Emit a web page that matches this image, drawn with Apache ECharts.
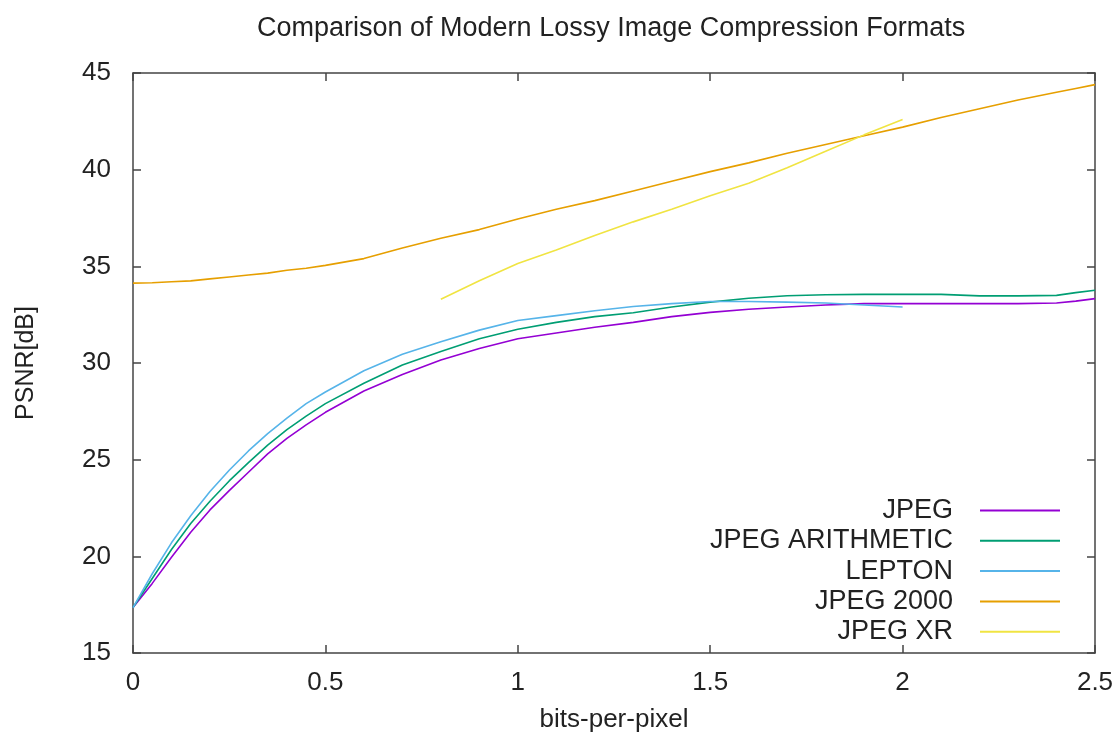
<!DOCTYPE html>
<html>
<head>
<meta charset="utf-8">
<script src="https://cdn.jsdelivr.net/npm/echarts@6/dist/echarts.min.js"></script>
<style>
  html, body { margin: 0; padding: 0; background: #fff; }
  #chart { width: 1118px; height: 740px; }
</style>
</head>
<body>
<div id="chart"></div>
<script>
// bits-per-pixel samples shared by all curves
var bpp = [0, 0.05, 0.1, 0.15, 0.2, 0.25, 0.3, 0.35, 0.4, 0.45, 0.5,
  0.6, 0.7, 0.8, 0.9, 1.0, 1.1, 1.2, 1.3, 1.4, 1.5, 1.6, 1.7, 1.8, 1.9, 2.0,
  2.1, 2.2, 2.3, 2.4, 2.45, 2.5];

var jpeg = [17.35, 18.6, 19.95, 21.25, 22.4, 23.4, 24.35, 25.3, 26.1, 26.8, 27.45,
  28.55, 29.4, 30.15, 30.75, 31.25, 31.55, 31.85, 32.1, 32.4, 32.62, 32.78, 32.9, 33.0, 33.07, 33.07,
  33.07, 33.07, 33.07, 33.1, 33.2, 33.33];

var jpegArith = [17.35, 18.85, 20.35, 21.7, 22.85, 23.9, 24.85, 25.75, 26.55, 27.25, 27.9,
  28.95, 29.9, 30.6, 31.25, 31.75, 32.1, 32.4, 32.6, 32.9, 33.15, 33.35, 33.48, 33.53, 33.55, 33.55,
  33.55, 33.47, 33.47, 33.5, 33.64, 33.76];

var lepton = [17.35, 19.1, 20.7, 22.1, 23.35, 24.45, 25.45, 26.35, 27.15, 27.9, 28.5,
  29.6, 30.45, 31.1, 31.7, 32.2, 32.45, 32.7, 32.92, 33.07, 33.18, 33.18, 33.15, 33.1, 33.0, 32.9,
  null, null, null, null, null, null];

var jpeg2000 = [34.13, 34.15, 34.2, 34.25, 34.35, 34.45, 34.55, 34.65, 34.8, 34.9, 35.05,
  35.4, 35.95, 36.45, 36.9, 37.45, 37.95, 38.4, 38.9, 39.4, 39.9, 40.35, 40.85, 41.3, 41.75, 42.2,
  42.7, 43.15, 43.6, 44.0, 44.2, 44.4];

var jpegXR = [null, null, null, null, null, null, null, null, null, null, null,
  null, null, 33.3, 34.25, 35.15, 35.85, 36.6, 37.3, 37.95, 38.65, 39.3, 40.1, 40.95, 41.8, 42.6,
  null, null, null, null, null, null];

var seriesNames = ['JPEG', 'JPEG ARITHMETIC', 'LEPTON', 'JPEG 2000', 'JPEG XR'];
var seriesValues = [jpeg, jpegArith, lepton, jpeg2000, jpegXR];
var seriesColors = ['#9400d3', '#009e73', '#56b4e9', '#e69f00', '#f0e442'];

var font = 'Liberation Sans, Arial, sans-serif';
var frame = { show: true, onZero: false, lineStyle: { color: '#444', width: 1.5 } };
var ticks = { show: true, inside: true, length: 8, lineStyle: { color: '#444', width: 1.5 } };

function pairs(vals) {
  var out = [];
  bpp.forEach(function (x, i) {
    if (vals[i] != null) out.push([x, vals[i]]);
  });
  return out;
}

var chart = echarts.init(document.getElementById('chart'), null, { renderer: 'canvas' });

var legends = seriesNames.map(function (name, i) {
  return {
    data: [name],
    right: 58,
    top: 497 + i * 30.3,
    align: 'right',
    icon: 'rect',
    itemWidth: 80,
    itemHeight: 2,
    padding: 0,
    selectedMode: false,
    textStyle: { fontFamily: font, fontSize: 27, color: '#222', padding: [0, 22, 0, 0] }
  };
});

var option = {
  backgroundColor: '#fff',
  animation: false,
  title: {
    text: 'Comparison of Modern Lossy Image Compression Formats',
    left: 257,
    top: 15,
    padding: 0,
    textStyle: { fontFamily: font, fontSize: 27, fontWeight: 'normal', color: '#222' }
  },
  legend: legends,
  grid: { left: 133, right: 23, top: 73, bottom: 87 },
  xAxis: [{
    type: 'value', min: 0, max: 2.5, interval: 0.5,
    name: 'bits-per-pixel', nameLocation: 'middle', nameGap: 54,
    nameTextStyle: { fontFamily: font, fontSize: 26, color: '#222' },
    axisLine: frame, axisTick: ticks,
    axisLabel: { margin: 17, fontFamily: font, fontSize: 26, color: '#222' },
    splitLine: { show: false }
  }, {
    type: 'value', min: 0, max: 2.5, interval: 0.5, position: 'top',
    axisLine: frame, axisTick: ticks, axisLabel: { show: false }, splitLine: { show: false }
  }],
  yAxis: [{
    type: 'value', min: 15, max: 45, interval: 5,
    name: 'PSNR[dB]', nameLocation: 'middle', nameGap: 94, nameRotate: 90,
    nameTextStyle: { fontFamily: font, fontSize: 25, color: '#222' },
    axisLine: frame, axisTick: ticks,
    axisLabel: { margin: 22, fontFamily: font, fontSize: 26, color: '#222' },
    splitLine: { show: false }
  }, {
    type: 'value', min: 15, max: 45, interval: 5, position: 'right',
    axisLine: frame, axisTick: ticks, axisLabel: { show: false }, splitLine: { show: false }
  }],
  series: seriesNames.map(function (name, i) {
    return {
      name: name,
      type: 'line',
      data: pairs(seriesValues[i]),
      showSymbol: false,
      symbol: 'none',
      color: seriesColors[i],
      lineStyle: { width: 1.6, color: seriesColors[i] },
      silent: true
    };
  })
};

chart.setOption(option);
</script>
</body>
</html>
